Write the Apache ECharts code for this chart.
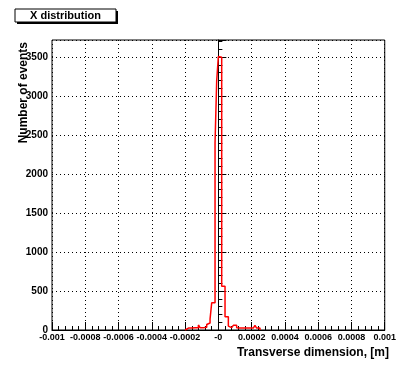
<!DOCTYPE html>
<html>
<head>
<meta charset="utf-8">
<script src="https://cdn.jsdelivr.net/npm/echarts@6/dist/echarts.min.js"></script>
<style>
html,body{margin:0;padding:0;background:#fff;}
#c{width:399px;height:365px;}
</style>
</head>
<body>
<div id="c"></div>
<script>
// ---- data ----
var titleText = "X distribution";
var xTitle = "Transverse dimension, [m]";
var yTitle = "Number of events";
var xTickLabels = ["-0.001","-0.0008","-0.0006","-0.0004","-0.0002","-0","0.0002","0.0004","0.0006","0.0008","0.001"];
var yTickLabels = ["0","500","1000","1500","2000","2500","3000","3500"];
var binStart = -0.0002;
var binWidth = 0.00001;
var counts = [25,25,25,25,25,30,30,30,65,30,
              30,30,35,70,90,140,350,350,2400,3200,
              3510,3500,560,560,170,170,50,30,30,60,
              60,30,25,25,25,25,25,25,25,25,
              25,25,60,25,25];

// build histogram step outline from bins
var pts = [[binStart, 0]];
for (var i = 0; i < counts.length; i++) {
  pts.push([binStart + i * binWidth, counts[i]]);
}
pts.push([binStart + counts.length * binWidth, counts[counts.length - 1]]);
pts.push([binStart + counts.length * binWidth, 0]);

var font = "Liberation Sans";
var chart = echarts.init(document.getElementById('c'), null, {renderer: 'canvas'});
chart.setOption({
  animation: false,
  backgroundColor: '#ffffff',
  grid: {left: 52, right: 10, top: 40, bottom: 35, show: true, borderColor: '#000', borderWidth: 1, backgroundColor: 'transparent'},
  xAxis: {
    type: 'value', min: -0.001, max: 0.001, interval: 0.0002,
    axisLine: {show: true, lineStyle: {color: '#000', width: 1}},
    axisTick: {show: true, inside: true, length: 8, lineStyle: {color: '#000'}},
    minorTick: {show: true, splitNumber: 5, length: 4, lineStyle: {color: '#000'}},
    splitLine: {show: true, lineStyle: {color: '#000', type: [1, 3], width: 1}},
    axisLabel: {
      margin: 3, fontFamily: font, fontSize: 9, fontWeight: 'bold', color: '#000',
      formatter: function (v) { return xTickLabels[Math.round((v + 0.001) / 0.0002)]; }
    }
  },
  yAxis: {
    type: 'value', min: 0, max: 3720, interval: 500,
    axisLine: {show: true, lineStyle: {color: '#000', width: 1}},
    axisTick: {show: true, inside: true, length: 8, lineStyle: {color: '#000'}},
    minorTick: {show: true, splitNumber: 5, length: 4, lineStyle: {color: '#000'}},
    splitLine: {show: true, lineStyle: {color: '#000', type: [1, 3], width: 1}},
    axisLabel: {
      margin: 4, fontFamily: font, fontSize: 10, fontWeight: 'bold', color: '#000',
      showMaxLabel: false,
      formatter: function (v) {
        var k = Math.round(v / 500);
        if (Math.abs(v - k * 500) > 1) return '';
        return yTickLabels[k];
      }
    }
  },
  series: [{
    type: 'line', data: pts, step: 'end', showSymbol: false, symbol: 'none',
    lineStyle: {color: '#ff0000', width: 1.5}, z: 5
  }],
  graphic: [
    {type: 'rect', shape: {x: 17, y: 11, width: 101, height: 13}, style: {fill: '#000'}, z: 10},
    {type: 'rect', shape: {x: 15, y: 9, width: 101, height: 13}, style: {fill: '#fff', stroke: '#000', lineWidth: 1}, z: 11},
    {type: 'text', x: 65.5, y: 15.5, style: {text: titleText, font: 'bold 11px "Liberation Sans"', fill: '#000', align: 'center', verticalAlign: 'middle'}, z: 12},
    {type: 'text', x: 24, y: 42, rotation: Math.PI / 2, style: {text: yTitle, font: 'bold 12px "Liberation Sans"', fill: '#000', align: 'right', verticalAlign: 'middle'}, z: 12},
    {type: 'text', x: 389, y: 353, style: {text: xTitle, font: 'bold 12px "Liberation Sans"', fill: '#000', align: 'right', verticalAlign: 'middle'}, z: 12}
  ]
});
</script>
</body>
</html>
